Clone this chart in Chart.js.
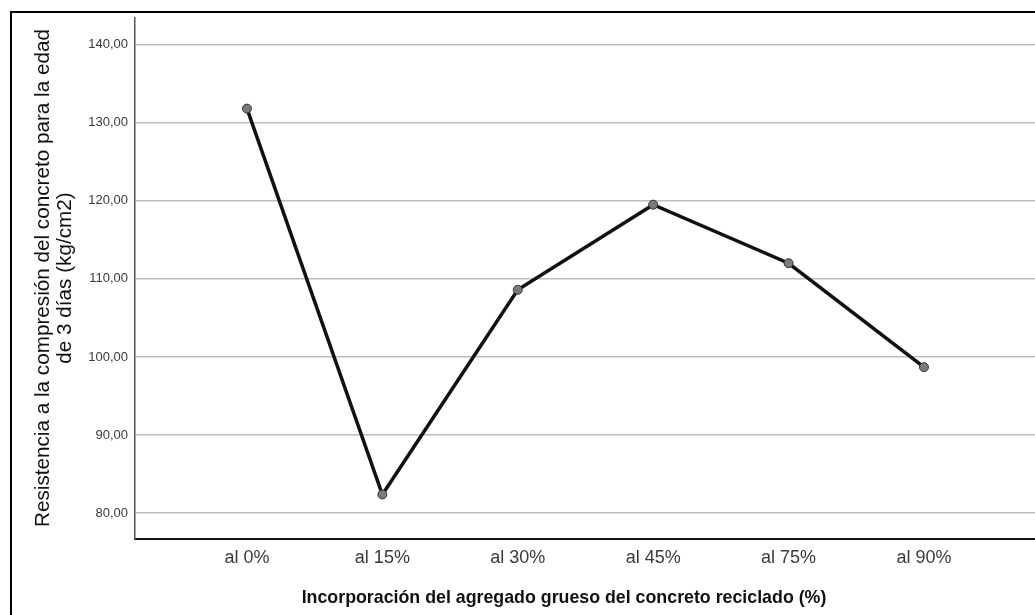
<!DOCTYPE html>
<html>
<head>
<meta charset="utf-8">
<script src="https://cdn.jsdelivr.net/npm/chart.js@4/dist/chart.umd.min.js"></script>
<style>
  html, body { margin: 0; padding: 0; background: #fff; overflow: hidden; }
  #wrap { position: absolute; left: 0; top: 0; width: 1035px; height: 615px; }
</style>
</head>
<body>
<div id="wrap"><canvas id="c" width="1035" height="615"></canvas></div>
<script>
const categories = ["al 0%", "al 15%", "al 30%", "al 45%", "al 75%", "al 90%"];
const values = [131.8, 82.4, 108.6, 119.5, 112.0, 98.7];
const yTicks = [80, 90, 100, 110, 120, 130, 140];
const yTitleLines = ["Resistencia a la compresión del concreto para la edad", "de 3 días (kg/cm2)"];
const xTitle = "Incorporación del agregado grueso del concreto reciclado (%)";

const FONT = "'Liberation Sans', Arial, sans-serif";

const decorPlugin = {
  id: 'decor',
  afterDraw(chart) {
    const ctx = chart.ctx;
    ctx.save();
    // outer frame
    ctx.strokeStyle = '#000';
    ctx.lineWidth = 2;
    ctx.beginPath();
    ctx.moveTo(11, 620);
    ctx.lineTo(11, 12);
    ctx.lineTo(1040, 12);
    ctx.stroke();
    // y title
    ctx.fillStyle = '#111';
    ctx.font = "20.7px " + FONT;
    ctx.textAlign = 'center';
    ctx.textBaseline = 'alphabetic';
    const cy = 278;
    ctx.translate(0, cy);
    ctx.rotate(-Math.PI / 2);
    ctx.fillText(yTitleLines[0], 0, 49);
    ctx.fillText(yTitleLines[1], 0, 71);
    ctx.restore();
    ctx.save();
    ctx.fillStyle = '#111';
    ctx.font = "bold 17.8px " + FONT;
    ctx.textAlign = 'center';
    ctx.textBaseline = 'alphabetic';
    ctx.fillText(xTitle, 564, 603);
    ctx.restore();
  }
};

new Chart(document.getElementById('c'), {
  type: 'line',
  data: {
    datasets: [{
      data: values.map((v, i) => ({ x: i, y: v })),
      borderColor: '#111',
      borderWidth: 3.5,
      pointRadius: 4.5,
      pointBackgroundColor: '#7a7a7a',
      pointBorderColor: '#333',
      pointBorderWidth: 1,
      tension: 0,
      fill: false
    }]
  },
  options: {
    responsive: false,
    animation: false,
    events: [],
    layout: { autoPadding: false, padding: { top: 18, right: 0, bottom: 0, left: 0 } },
    plugins: { legend: { display: false }, tooltip: { enabled: false } },
    scales: {
      x: {
        type: 'linear',
        min: -0.827,
        max: 5.82,
        afterBuildTicks(scale) { scale.ticks = categories.map((c, i) => ({ value: i })); },
        afterFit(scale) { scale.height = 76; },
        ticks: {
          callback: (v) => categories[v] ?? '',
          font: { family: FONT, size: 18 },
          color: '#3a3a3a',
          padding: 8,
          maxRotation: 0,
          autoSkip: false
        },
        grid: { display: false, drawTicks: false },
        border: { display: true, color: '#111', width: 2 }
      },
      y: {
        type: 'linear',
        min: 76.7,
        max: 143.4,
        afterBuildTicks(scale) { scale.ticks = yTicks.map(v => ({ value: v })); },
        afterFit(scale) { scale.width = 135; },
        ticks: {
          callback: (v) => v.toFixed(2).replace('.', ','),
          font: { family: FONT, size: 13 },
          color: '#3a3a3a',
          padding: 7
        },
        grid: { color: '#bdbdbd', lineWidth: 1.5, drawTicks: false },
        border: { display: true, color: '#555', width: 1.5 }
      }
    }
  },
  plugins: [decorPlugin]
});
</script>
</body>
</html>
